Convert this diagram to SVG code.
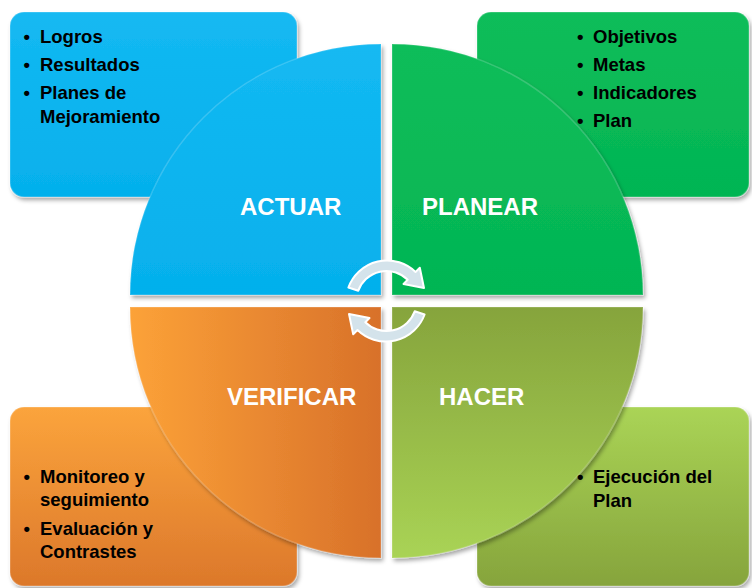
<svg xmlns="http://www.w3.org/2000/svg" width="752" height="588" viewBox="0 0 752 588">
<defs>
  <filter id="sh" x="-10%" y="-10%" width="125%" height="125%">
    <feDropShadow dx="2" dy="3" stdDeviation="2" flood-color="#000" flood-opacity="0.35"/>
  </filter>
  <linearGradient id="gBlue" x1="0" y1="0" x2="0" y2="1">
    <stop offset="0" stop-color="#14b9f2"/><stop offset="1" stop-color="#05b0ec"/>
  </linearGradient>
  <linearGradient id="gGreen" x1="0" y1="0" x2="0" y2="1">
    <stop offset="0" stop-color="#0cbd5a"/><stop offset="1" stop-color="#04b553"/>
  </linearGradient>
  <linearGradient id="gOrQ" x1="0" y1="0" x2="1" y2="0">
    <stop offset="0" stop-color="#fca238"/><stop offset="1" stop-color="#d8712a"/>
  </linearGradient>
  <linearGradient id="gOrB" x1="0" y1="0" x2="0" y2="1">
    <stop offset="0" stop-color="#fba43c"/><stop offset="1" stop-color="#dc782b"/>
  </linearGradient>
  <linearGradient id="gOlQ" x1="0" y1="0" x2="0" y2="1">
    <stop offset="0" stop-color="#86a43c"/><stop offset="1" stop-color="#a9d355"/>
  </linearGradient>
  <linearGradient id="gOlB" x1="0" y1="0" x2="0" y2="1">
    <stop offset="0" stop-color="#aad456"/><stop offset="1" stop-color="#86a43c"/>
  </linearGradient>
</defs>
<style>
  .box { filter: url(#sh); stroke: rgba(255,255,255,0.2); stroke-width: 1.5; }
  .quad { filter: url(#sh); stroke: rgba(255,255,255,0.18); stroke-width: 1.5; }
  .lbl { font-family: "Liberation Sans", Arial, sans-serif; font-weight: bold; font-size: 24px; fill: #ffffff; }
  .txt { font-family: "Liberation Sans", Arial, sans-serif; font-weight: bold; font-size: 18.5px; fill: #000000; }
  .arr { fill: #d4e3eb; stroke: #ffffff; stroke-width: 2; stroke-linejoin: round; }
</style>

<g id="box-actuar">
  <rect class="box" x="10" y="12" width="287" height="185" rx="14" fill="url(#gBlue)"/>
</g>
<g id="box-planear">
  <rect class="box" x="477" y="12" width="272" height="185" rx="14" fill="url(#gGreen)"/>
</g>
<g id="box-verificar">
  <rect class="box" x="10" y="407" width="287" height="179" rx="14" fill="url(#gOrB)"/>
</g>
<g id="box-hacer">
  <rect class="box" x="477" y="407" width="272" height="179" rx="14" fill="url(#gOlB)"/>
</g>

<g id="actuar">
  <path class="quad" d="M381,295 L130,295 A251,251 0 0 1 381,44 Z" fill="url(#gBlue)"/>
  <text class="lbl" x="240" y="215">ACTUAR</text>
</g>
<g id="planear">
  <path class="quad" d="M392,295 L392,44 A251,251 0 0 1 643,295 Z" fill="url(#gGreen)"/>
  <text class="lbl" x="422" y="215">PLANEAR</text>
</g>
<g id="verificar">
  <path class="quad" d="M381,307 L381,558 A251,251 0 0 1 130,307 Z" fill="url(#gOrQ)"/>
  <text class="lbl" x="227" y="405">VERIFICAR</text>
</g>
<g id="hacer">
  <path class="quad" d="M392,307 L643,307 A251,251 0 0 1 392,558 Z" fill="url(#gOlQ)"/>
  <text class="lbl" x="439" y="405">HACER</text>
</g>

<g id="text-actuar">
  <text class="txt" x="23.5" y="43">•</text><text class="txt" x="40" y="43">Logros</text>
  <text class="txt" x="23.5" y="71">•</text><text class="txt" x="40" y="71">Resultados</text>
  <text class="txt" x="23.5" y="99">•</text><text class="txt" x="40" y="99">Planes de</text>
  <text class="txt" x="40" y="123">Mejoramiento</text>
</g>
<g id="text-planear">
  <text class="txt" x="577" y="43">•</text><text class="txt" x="593" y="43">Objetivos</text>
  <text class="txt" x="577" y="71">•</text><text class="txt" x="593" y="71">Metas</text>
  <text class="txt" x="577" y="99">•</text><text class="txt" x="593" y="99">Indicadores</text>
  <text class="txt" x="577" y="127">•</text><text class="txt" x="593" y="127">Plan</text>
</g>
<g id="text-verificar">
  <text class="txt" x="23.5" y="483">•</text><text class="txt" x="40" y="483">Monitoreo y</text>
  <text class="txt" x="40" y="506">seguimiento</text>
  <text class="txt" x="23.5" y="535">•</text><text class="txt" x="40" y="535">Evaluación y</text>
  <text class="txt" x="40" y="558">Contrastes</text>
</g>
<g id="text-hacer">
  <text class="txt" x="577" y="483">•</text><text class="txt" x="593" y="483">Ejecución del</text>
  <text class="txt" x="593" y="507">Plan</text>
</g>

<g id="connectors">
  <path class="arr" d="M348.4,287.5 A41,41 0 0 1 415.5,272.0 L419.8,267.8 L424,288 L403.5,284.0 L407.7,279.8 A30,30 0 0 0 358.3,290.7 Z"/>
  <path class="arr" transform="rotate(180 386.5 301)" d="M348.4,287.5 A41,41 0 0 1 415.5,272.0 L419.8,267.8 L424,288 L403.5,284.0 L407.7,279.8 A30,30 0 0 0 358.3,290.7 Z"/>
</g>
</svg>
